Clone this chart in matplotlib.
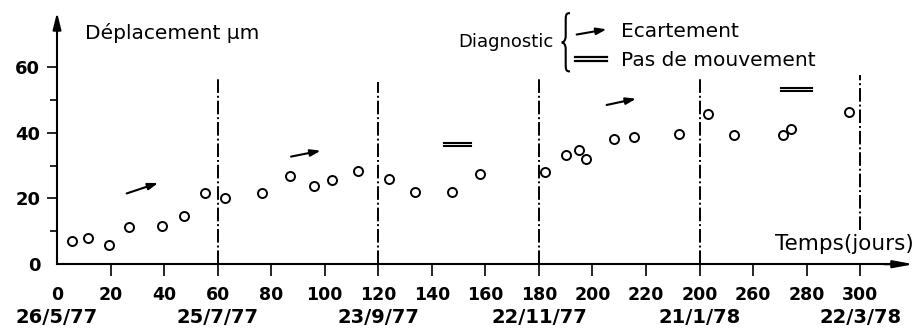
import matplotlib
matplotlib.use("Agg")
import matplotlib.pyplot as plt
from matplotlib.path import Path
from matplotlib.patches import PathPatch

plt.rcParams['font.family'] = ['DejaVu Sans']

# ---- data ----
days = [5.5, 11.7, 19.4, 27, 39.2, 47.3, 55.4, 62.9, 76.7, 87.2, 96.1, 102.6,
        112.6, 124, 133.8, 147.4, 158, 182.4, 190, 194.9, 197.6, 208.2, 215.7,
        232.3, 243.3, 252.9, 271.1, 274.1, 295.9]
displacement = [7.2, 8.1, 5.9, 11.3, 11.7, 14.7, 21.6, 20.0, 21.6, 26.8, 23.9,
                25.6, 28.3, 26.0, 22.0, 22.0, 27.4, 28.0, 33.1, 34.8, 31.9, 38.0,
                38.8, 39.5, 45.6, 39.4, 39.4, 41.1, 46.2]

x_ticks = [0, 20, 40, 60, 80, 100, 120, 140, 160, 180, 200, 220, 240, 260, 280, 300]
x_tick_labels = ['0', '20', '40', '60', '80', '100', '120', '140', '160', '180',
                 '200', '220', '200', '260', '280', '300']
y_ticks = [0, 20, 40, 60]
y_minor = [10, 30, 50]

date_days = [0, 60, 120, 180, 240, 300]
date_labels = ['26/5/77', '25/7/77', '23/9/77', '22/11/77', '21/1/78', '22/3/78']

sep_days = [60, 120, 180, 240, 300]
sep_bottom = [0, 0, 0, 0, 10.5]
sep_top = [56.7, 55.5, 57.0, 56.4, 57.4]

# diagnostic marks: arrows (écartement) and "=" (pas de mouvement)
arrow_start = [(26.0, 21.5), (87.4, 32.7), (205.3, 48.4)]
arrow_end = [(37.8, 24.7), (98.5, 34.5), (216.3, 50.3)]
equal_x = [(144.7, 154.5), (270.5, 282.0)]
equal_y = [(36.9, 35.9), (53.6, 52.6)]

# ---- figure ----
fig = plt.figure(figsize=(9.14, 3.31), dpi=100)
ax = fig.add_axes([0, 0, 1, 1])
ax.set_xlim(-21.3, 320.1)
ax.set_ylim(-20.3, 80.3)

for s in ['top', 'right']:
    ax.spines[s].set_visible(False)
ax.spines['left'].set_position(('data', 0))
ax.spines['bottom'].set_position(('data', 0))
ax.spines['left'].set_bounds(0, 72)
ax.spines['bottom'].set_bounds(0, 312)
for s in ['left', 'bottom']:
    ax.spines[s].set_linewidth(1.5)
    ax.spines[s].set_color('black')

# axis arrows
ax.annotate('', xy=(0, 76.5), xytext=(0, 70), annotation_clip=False,
            arrowprops=dict(arrowstyle='-|>,head_length=1.0,head_width=0.25',
                            color='black', lw=1.5, shrinkA=0, shrinkB=0))
ax.annotate('', xy=(320, 0), xytext=(309, 0), annotation_clip=False,
            arrowprops=dict(arrowstyle='-|>,head_length=1.2,head_width=0.22',
                            color='black', lw=1.5, shrinkA=0, shrinkB=0))

ax.set_xticks(x_ticks)
ax.set_xticklabels(x_tick_labels, fontsize=12.5, fontweight='bold')
ax.set_yticks(y_ticks)
ax.set_yticklabels([str(v) for v in y_ticks], fontsize=13, fontweight='bold')
ax.set_yticks(y_minor, minor=True)
ax.tick_params(axis='x', direction='out', length=8.5, width=1.2, pad=7)
ax.tick_params(axis='y', which='major', direction='out', length=7, width=1.2, pad=5)
ax.tick_params(axis='y', which='minor', direction='out', length=5, width=1.2)
ax.xaxis.get_major_ticks()[0].tick1line.set_visible(False)
ax.yaxis.get_major_ticks()[0].tick1line.set_visible(False)

# date labels
for d, lab in zip(date_days, date_labels):
    ax.text(d, -16.3, lab, ha='center', va='center', fontsize=14,
            fontweight='bold', clip_on=False)

# separators
for d, b, t in zip(sep_days, sep_bottom, sep_top):
    ax.plot([d, d], [b, t], color='black', lw=1.4,
            linestyle=(0, (7, 1.5, 1, 1.5)))

# data points
ax.plot(days, displacement, linestyle='none', marker='o', markersize=6.5,
        markerfacecolor='white', markeredgecolor='black', markeredgewidth=1.4,
        zorder=5)

# diagnostic arrows
for s, e in zip(arrow_start, arrow_end):
    ax.annotate('', xy=e, xytext=s,
                arrowprops=dict(arrowstyle='-|>,head_length=0.6,head_width=0.2',
                                color='black', lw=1.5, shrinkA=0, shrinkB=0))
for xs, ys in zip(equal_x, equal_y):
    for yv in ys:
        ax.plot(xs, [yv, yv], color='black', lw=1.5)

# labels
ax.text(10.5, 70.3, 'Déplacement µm', fontsize=14.5, ha='left', va='center')
ax.text(320, 6.2, 'Temps(jours)', fontsize=15.5, ha='right', va='center')

# legend
ax.text(185.3, 67.4, 'Diagnostic', fontsize=13, ha='right', va='center')
bx0, bx1 = 188.5, 191.6
bt, bm, bb = 76.3, 67.4, 58.6
verts = [(bx1, bt), (bx1 - 1.6, bt), (bx0 + 1.5, bt - 0.5), (bx0 + 1.5, bt - 3),
         (bx0 + 1.5, bm + 2),
         (bx0 + 1.5, bm + 0.5), (bx0 + 0.6, bm), (bx0, bm),
         (bx0 + 0.6, bm), (bx0 + 1.5, bm - 0.5), (bx0 + 1.5, bm - 2),
         (bx0 + 1.5, bb + 3),
         (bx0 + 1.5, bb + 0.5), (bx1 - 1.6, bb), (bx1, bb)]
codes = [Path.MOVETO, Path.CURVE4, Path.CURVE4, Path.CURVE4,
         Path.LINETO,
         Path.CURVE4, Path.CURVE4, Path.CURVE4,
         Path.CURVE4, Path.CURVE4, Path.CURVE4,
         Path.LINETO,
         Path.CURVE4, Path.CURVE4, Path.CURVE4]
ax.add_patch(PathPatch(Path(verts, codes), facecolor='none', edgecolor='black', lw=1.5))

ax.annotate('', xy=(205.3, 71.4), xytext=(194.1, 69.8),
            arrowprops=dict(arrowstyle='-|>,head_length=0.6,head_width=0.2',
                            color='black', lw=1.5, shrinkA=0, shrinkB=0))
for yv in (62.9, 61.7):
    ax.plot([193.3, 205.3], [yv, yv], color='black', lw=1.6)
ax.text(210.7, 70.6, 'Ecartement', fontsize=14.5, ha='left', va='center')
ax.text(210.7, 62.0, 'Pas de mouvement', fontsize=14.5, ha='left', va='center')

fig.savefig('out.png', dpi=100)
